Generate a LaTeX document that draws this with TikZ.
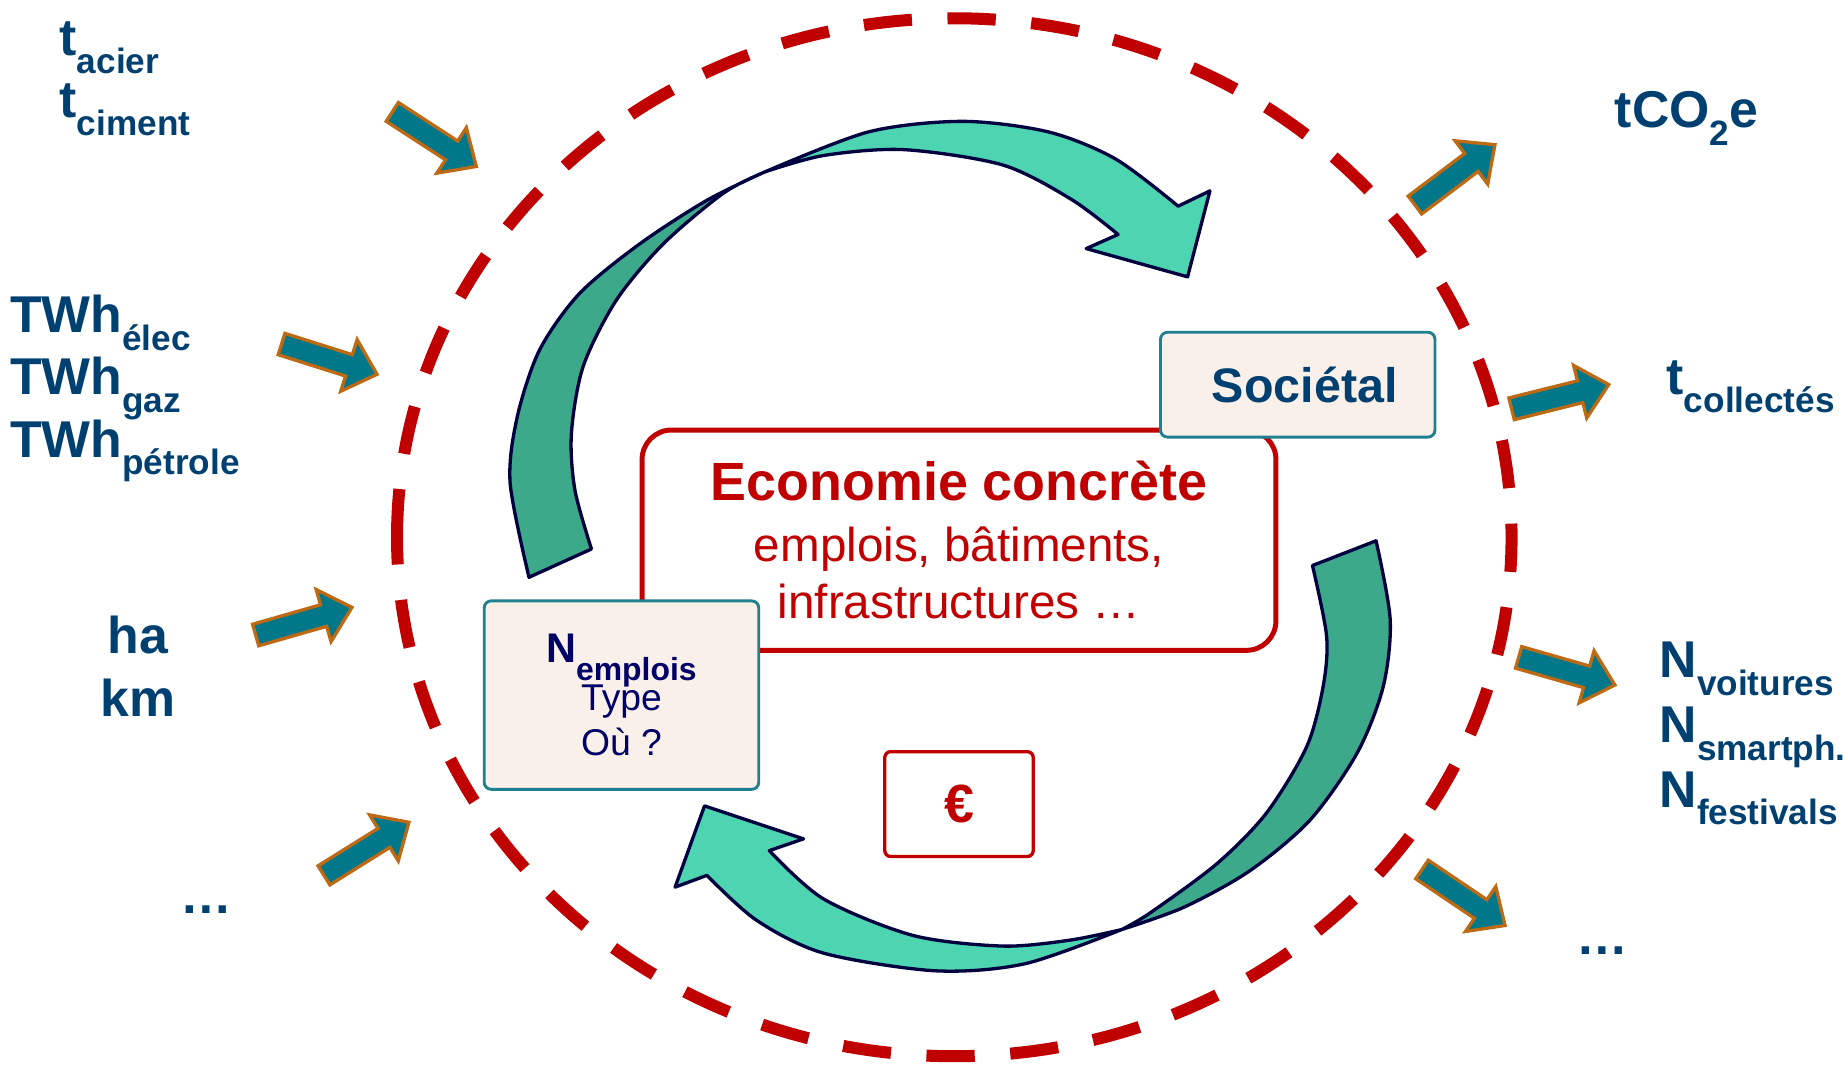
\documentclass[tikz,border=0pt]{standalone}
\usepackage{fontspec}
\setmainfont{Liberation Sans}
\usepackage{xcolor}
\usetikzlibrary{positioning, calc}

\definecolor{ecored}{RGB}{192,0,0}
\definecolor{labelblue}{RGB}{0,64,112}
\definecolor{navytext}{RGB}{0,0,102}
\definecolor{boxteal}{RGB}{31,128,143}
\definecolor{boxcream}{RGB}{249,240,234}
\definecolor{frontgreen}{RGB}{77,212,176}
\definecolor{backgreen}{RGB}{60,169,139}
\definecolor{loopline}{RGB}{0,0,64}
\definecolor{fluxteal}{RGB}{0,120,137}
\definecolor{fluxedge}{RGB}{190,105,20}

% lowered index, as in TWh_elec
\newcommand{\lowidx}[2][8.5]{\raisebox{-4.3pt}{\fontsize{#1}{10}\selectfont #2}}
\newcommand{\tightlines}{\lineskiplimit=-20pt\relax}

\begin{document}
\begin{tikzpicture}[
  boundary/.style={draw=ecored, line width=2.9pt, dash pattern=on 0.41cm off 0.302cm},
  frontface/.style={fill=frontgreen, draw=loopline, line width=0.8pt, line join=round},
  backface/.style={fill=backgreen, draw=loopline, line width=0.8pt, line join=round},
  ecobox/.style={draw=ecored, line width=1.2pt, rounded corners=0.25cm, fill=white, minimum width=5.38cm, minimum height=1.87cm, align=center, text=ecored, font=\fontsize{11.5}{13.7}\selectfont},
  infobox/.style={draw=boxteal, line width=0.7pt, rounded corners=0.06cm, fill=boxcream, minimum width=2.33cm, align=center},
  eurobox/.style={draw=ecored, line width=0.8pt, rounded corners=0.05cm, fill=white, minimum width=1.26cm, minimum height=0.89cm, text=ecored, font=\bfseries\fontsize{13}{15}\selectfont},
  lbl/.style={text=labelblue, font=\bfseries\fontsize{12.5}{15}\selectfont, inner sep=0pt},
  flux/.pic={
    \filldraw[fill=fluxteal, draw=fluxedge, line width=0.8pt]
      (0,-0.095) -- (0.6,-0.095) -- (0.6,-0.23) -- (0.85,0) -- (0.6,0.23) -- (0.6,0.095) -- (0,0.095) -- cycle;
  }
]
\useasboundingbox (-8.13,-4.50) rectangle (7.53,4.56);

% System boundary (starts at the left, runs clockwise)
\draw[boundary] (-4.76,0) arc[start angle=180, end angle=-180, x radius=4.73cm, y radius=4.405cm];

% Upper loop arrow
\filldraw[backface]
  plot[smooth] coordinates {(-3.64,-0.34) (-3.80,0.46) (-3.74,1.02) (-3.55,1.59) (-3.21,2.07) (-2.70,2.49) (-2.13,2.86) (-1.64,3.10)}
  -- plot[smooth] coordinates {(-1.64,3.10) (-1.99,2.92) (-2.50,2.49) (-2.90,2.01) (-3.18,1.45) (-3.28,0.88) (-3.25,0.40) (-3.11,-0.10)}
  -- cycle;
\filldraw[frontface]
  plot[smooth] coordinates {(-1.64,3.10) (-0.76,3.44) (0.04,3.53) (0.77,3.44) (1.34,3.21) (1.87,2.81)}
  -- (2.14,2.94) -- (1.95,2.21) -- (1.09,2.45) -- (1.36,2.57)
  -- plot[smooth] coordinates {(1.36,2.57) (0.96,2.87) (0.38,3.16) (-0.46,3.29) (-1.14,3.24) (-1.64,3.10)}
  -- cycle;

% Lower loop arrow
\filldraw[backface]
  plot[smooth] coordinates {(3.55,-0.03) (3.67,-0.70) (3.61,-1.27) (3.39,-1.83) (2.99,-2.40) (2.48,-2.83) (1.92,-3.14) (1.39,-3.33)}
  -- plot[smooth] coordinates {(1.39,-3.33) (1.63,-3.19) (2.20,-2.77) (2.62,-2.34) (2.96,-1.78) (3.10,-1.27) (3.13,-0.84) (3.01,-0.24)}
  -- cycle;
\filldraw[frontface]
  plot[smooth] coordinates {(1.39,-3.33) (0.57,-3.62) (-0.19,-3.68) (-1.14,-3.53) (-1.71,-3.25) (-2.13,-2.87)}
  -- (-2.40,-2.97) -- (-2.15,-2.28) -- (-1.31,-2.56) -- (-1.60,-2.66)
  -- plot[smooth] coordinates {(-1.60,-2.66) (-1.14,-3.07) (-0.38,-3.38) (0.38,-3.47) (0.95,-3.42) (1.39,-3.33)}
  -- cycle;

% Boxes
\node[ecobox] (eco) at (0.01,-0.025) {{\fontsize{13}{15}\selectfont\bfseries Economie concrète}\\[1.1pt] emplois, bâtiments,\\ infrastructures …};
\node[infobox, minimum height=0.89cm, text=labelblue, font=\bfseries\fontsize{11.7}{14}\selectfont] (societal) at (2.885,1.295) {\hspace*{1.2mm}Sociétal};
\node[infobox, minimum height=1.60cm, text=navytext, font=\fontsize{9}{10.8}\selectfont\tightlines] (emplois) at (-2.855,-1.34) {{\fontsize{10}{11}\selectfont\bfseries N\lowidx[7.7]{emplois}}\\[0.8pt] Type\\ Où ?};
\node[eurobox] (euro) at (0.01,-2.265) {€};

% Inputs
\node[lbl, anchor=base west] (acier) at (-7.63,4.09) {t\lowidx{acier}};
\node[lbl, anchor=base west] (ciment) at (-7.63,3.56) {t\lowidx{ciment}};
\node[lbl, anchor=base west] (elec) at (-8.05,1.74) {TWh\lowidx{élec}};
\node[lbl, anchor=base west] (gaz) at (-8.05,1.21) {TWh\lowidx{gaz}};
\node[lbl, anchor=base west] (petrole) at (-8.05,0.68) {TWh\lowidx{pétrole}};
\node[lbl, anchor=base] (ha) at (-6.96,-0.99) {ha};
\node[lbl, anchor=base] (km) at (-6.96,-1.52) {km};
\node[lbl, anchor=base] (autresin) at (-6.38,-3.19) {…};

% Outputs
\node[lbl, anchor=base west] (co2) at (5.57,3.48) {tCO\lowidx{2}e};
\node[lbl, anchor=base west] (collectes) at (6.01,1.21) {t\lowidx{collectés}};
\node[lbl, anchor=base west] (voitures) at (5.95,-1.19) {N\lowidx{voitures}};
\node[lbl, anchor=base west] (smartph) at (5.95,-1.74) {N\lowidx{smartph.}};
\node[lbl, anchor=base west] (festivals) at (5.95,-2.29) {N\lowidx{festivals}};
\node[lbl, anchor=base] (autresout) at (5.47,-3.54) {…};

% Flux arrows
\pic[rotate=-33] at (-4.80,3.61) {flux};
\pic[rotate=-17.6] at (-5.74,1.64) {flux};
\pic[rotate=16] at (-5.96,-0.83) {flux};
\pic[rotate=32] at (-5.38,-2.87) {flux};

\pic[rotate=37] at (3.88,2.82) {flux};
\pic[rotate=14] at (4.70,1.09) {flux};
\pic[rotate=-16] at (4.76,-1.02) {flux};
\pic[rotate=-34] at (3.94,-2.82) {flux};

\end{tikzpicture}
\end{document}
